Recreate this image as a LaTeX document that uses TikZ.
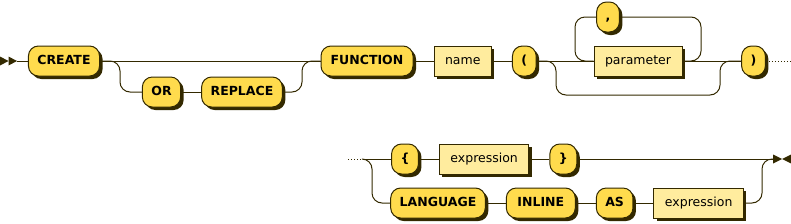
\documentclass[tikz,border=0pt]{standalone}
\usepackage{fontspec}
\setmainfont{DejaVu Sans}
\usetikzlibrary{positioning,shadows}
\definecolor{ink}{HTML}{332900}
\definecolor{termfill}{HTML}{FFDB4D}
\definecolor{ntfill}{HTML}{FFEC9E}

\begin{document}
\begin{tikzpicture}[
  x=1pt, y=-1pt,
  node distance=20pt,
  box/.style={draw=ink, line width=1pt, minimum height=30pt, text=black,
    text height=9pt, text depth=2.5pt, font=\fontsize{12.5}{14}\selectfont,
    drop shadow={shadow xshift=3pt, shadow yshift=-3pt, fill=ink, opacity=1}},
  term/.style={box, fill=termfill, rounded corners=10pt, inner xsep=9pt,
    font=\fontsize{12.5}{14}\selectfont\bfseries},
  nt/.style={box, fill=ntfill, inner xsep=11pt},
  wire/.style={draw=ink, line width=1pt},
  railcurve/.style={wire, rounded corners=10pt},
  tip/.style={fill=ink}
]
  \useasboundingbox (0,0) rectangle (791,223);

  % first line
  \node[term] (create) at (64,61) {CREATE};
  \node[term] (or) at (161.5,92) {OR};
  \node[term, right=of or] (replace) {REPLACE};
  \node[term, minimum width=92pt] (function) at (367,61) {FUNCTION};
  \node[nt, right=of function] (name) {name};
  \node[term, right=of name] (lparen) {(};
  \node[nt, minimum width=86pt] (param) at (638,61) {parameter};
  \node[term] (comma) at (608,17) {,};
  \node[term] (rparen) at (753.5,61) {)};

  % second line
  \node[term] (lbrace) at (405,159) {\{};
  \node[nt, right=of lbrace] (expr) {expression};
  \node[term, right=of expr] (rbrace) {\}};
  \node[term] (language) at (438,203) {LANGUAGE};
  \node[term, right=of language, minimum width=69pt] (inline) {INLINE};
  \node[term, right=of inline] (as) {AS};
  \node[nt, right=of as] (body) {expression};

  \coordinate (start) at (17,61);
  \coordinate (b1) at (120,92);
  \coordinate (b2) at (302,92);
  \coordinate (l1) at (701,17);
  \coordinate (l2) at (575,61);
  \coordinate (p1) at (556,61);
  \coordinate (p2) at (720,95);
  \coordinate (cut1) at (791,61);
  \coordinate (cut2) at (348,159);
  \coordinate (s2) at (363,159);
  \coordinate (s3) at (372,203);
  \coordinate (s4) at (762,159);
  \coordinate (stop) at (773,159);

  % start and end marks
  \fill[tip] (0,56.5) -- (8.5,61) -- (0,65.5) -- cycle;
  \fill[tip] (8.5,56.5) -- (17,61) -- (8.5,65.5) -- cycle;
  \fill[tip] (773,154.5) -- (782,159) -- (773,163.5) -- cycle;
  \fill[tip] (791,154.5) -- (782,159) -- (791,163.5) -- cycle;

  \draw[wire] (start) -- (create) -- (function) -- (name) -- (lparen) -- (param) -- (rparen);
  \draw[railcurve] (create.east) -| (b1) -- (or.west);
  \draw[wire] (or) -- (replace);
  \draw[railcurve] (replace.east) -- (b2) |- (function.west);
  \draw[railcurve] (param.east) -| (l1) -- (comma.east);
  \draw[railcurve] (comma.west) -| (l2) -- (param.west);
  \draw[railcurve] (lparen.east) -- (p1) |- (p2) |- (rparen.west);
  \draw[wire, dotted] (rparen) -- (cut1);

  \draw[wire, dotted] (cut2) -- (s2);
  \draw[wire] (s2) -- (lbrace) -- (expr) -- (rbrace) -- (stop);
  \draw[railcurve] (s2) -| (s3) -- (language.west);
  \draw[wire] (language) -- (inline) -- (as) -- (body);
  \draw[railcurve] (body.east) -| (s4) -- (stop);
\end{tikzpicture}
\end{document}
